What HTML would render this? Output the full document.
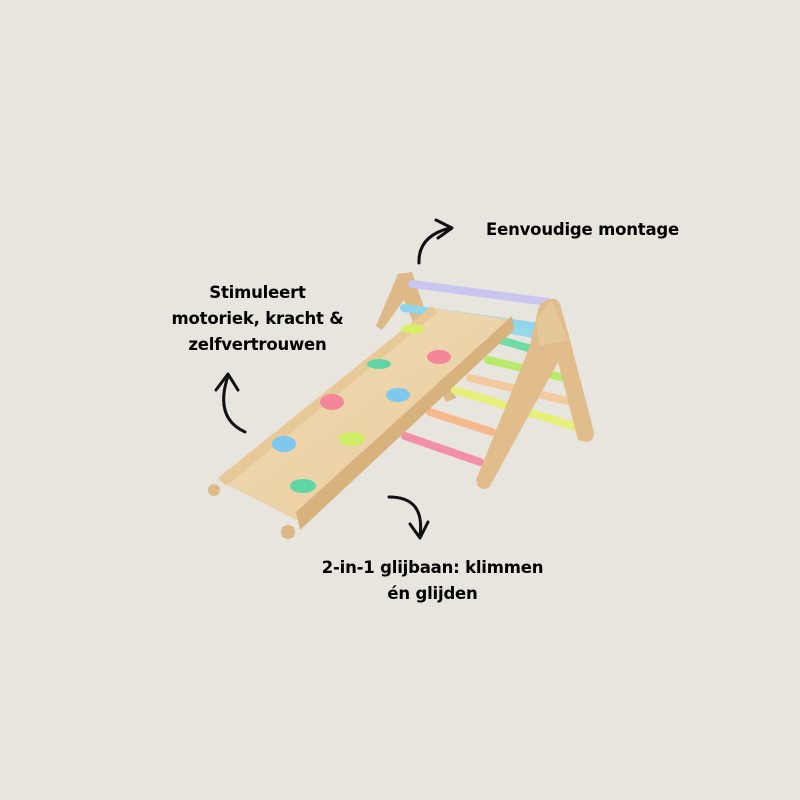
<!DOCTYPE html>
<html><head><meta charset="utf-8"><style>
html,body{margin:0;padding:0;background:#e8e5de;}
.w{position:relative;width:800px;height:800px;overflow:hidden;background:#e8e5de;font-family:"DejaVu Sans","Liberation Sans",sans-serif;font-weight:bold;color:#000;}
.t{position:absolute;font-size:16.5px;line-height:26px;text-align:center;letter-spacing:-0.2px}
svg{position:absolute;left:0;top:0}
</style></head><body><div class="w">
<svg width="800" height="800" viewBox="0 0 800 800">
<defs>
<linearGradient id="wd" x1="0" y1="0" x2="1" y2="1"><stop offset="0" stop-color="#f1dcb6"/><stop offset="1" stop-color="#e8cb9c"/></linearGradient>
</defs>
<path d="M398 274 L412 272 L420 296 L456 398 L446 402 L404 300 L382 330 L376 326 Z" fill="#dcb987"/>
<g stroke-linecap="round" stroke-width="8">
<line x1="412" y1="284" x2="548" y2="302" stroke="#c9c6f0"/>
<line x1="404" y1="308" x2="540" y2="327" stroke="#8fd6ec"/>
<line x1="500" y1="328" x2="555" y2="338" stroke="#98d8e8"/>
<line x1="500" y1="340" x2="560" y2="357" stroke="#6fdca6"/>
<line x1="488" y1="360" x2="565" y2="378" stroke="#b8ea6c"/>
<line x1="470" y1="378" x2="572" y2="402" stroke="#f3c9a0"/>
<line x1="455" y1="390" x2="580" y2="428" stroke="#e6ef7a"/>
<line x1="430" y1="412" x2="492" y2="432" stroke="#f6b98c"/>
<line x1="405" y1="436" x2="480" y2="462" stroke="#f48fa8"/>
</g>
<path d="M218 480 L432 308 L512 320 L296 520 Z" fill="url(#wd)"/>
<path d="M296 512 L512 316 L514 330 L300 530 Z" fill="#d8b27c"/>
<path d="M218 478 L432 306 L438 312 L226 486 Z" fill="#e7c998"/>
<circle cx="214" cy="490" r="6" fill="#dcb987"/>
<circle cx="288" cy="532" r="7" fill="#dcb987"/>
<g>
<ellipse cx="413" cy="329" rx="12" ry="5" fill="#d7ef68"/>
<ellipse cx="379" cy="364" rx="12" ry="5" fill="#5fd6a5"/>
<ellipse cx="439" cy="357" rx="12" ry="7" fill="#f4869a"/>
<ellipse cx="398" cy="395" rx="12" ry="7" fill="#7cc8ee"/>
<ellipse cx="332" cy="402" rx="12" ry="8" fill="#f4869a"/>
<ellipse cx="352" cy="439" rx="13" ry="7" fill="#cfec68"/>
<ellipse cx="284" cy="444" rx="12" ry="8" fill="#7cc8ee"/>
<ellipse cx="303" cy="486" rx="13" ry="7" fill="#5fd6a5"/>
</g>
<path d="M548 300 Q556 296 560 304 L570 340 L594 432 Q594 442 586 442 L578 440 L558 362 L490 486 Q484 492 478 486 L476 480 L530 346 L538 310 Q540 302 548 300 Z" fill="#e0bd8a"/>
<path d="M536 320 L552 300 L568 340 L540 346 Z" fill="#e6c797"/>
<g fill="none" stroke="#111" stroke-width="3" stroke-linecap="round" stroke-linejoin="round">
<path d="M419 263 Q418 236 450 228"/><path d="M436 220 L452 228 L438 238"/>
<path d="M245 432 Q214 418 228 376"/><path d="M216 390 L228 374 L238 390"/>
<path d="M389 497 Q425 497 420 535"/><path d="M410 524 L420 538 L428 522"/>
</g>
</svg>
<div class="t" style="left:460px;top:217px;width:245px">Eenvoudige montage</div>
<div class="t" style="left:135px;top:280px;width:245px">Stimuleert<br>motoriek, kracht &amp;<br>zelfvertrouwen</div>
<div class="t" style="left:290px;top:555px;width:285px">2-in-1 glijbaan: klimmen<br>én glijden</div>
</div></body></html>
